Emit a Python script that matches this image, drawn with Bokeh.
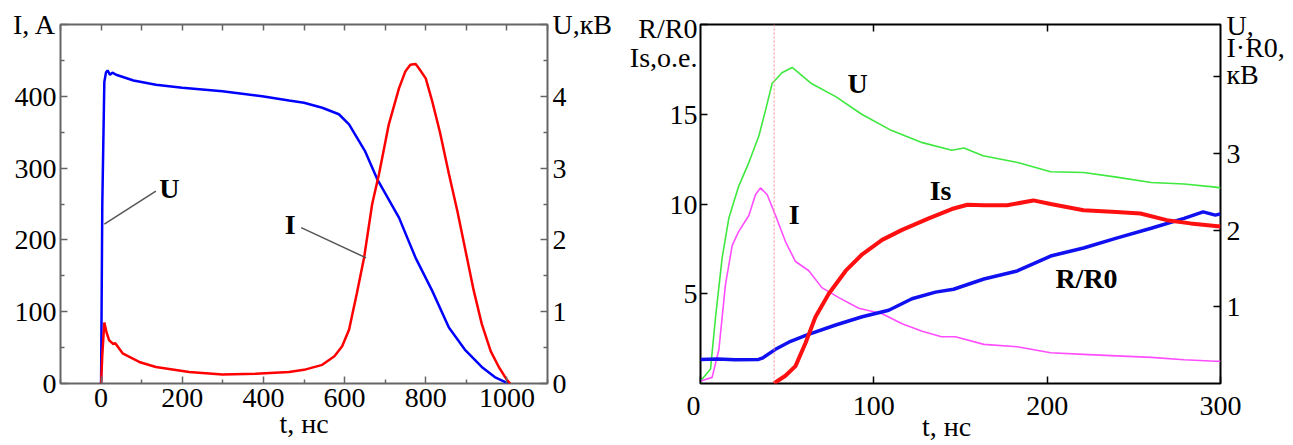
from bokeh.plotting import figure
from bokeh.models import Range1d, LinearAxis, Label, FixedTicker, Span
from bokeh.layouts import row
from bokeh.embed import file_html
from bokeh.resources import INLINE

SERIF = "Liberation Serif"
FS = "28px"
NB = "\u00a0"

# ---------------- left panel data ----------------
t_u1 = [0, 3, 8, 12, 16, 22, 28, 37, 80, 135, 200, 299, 397, 463, 500, 545, 586, 611,
        650, 680, 734, 775, 816, 857, 898, 938, 970, 996, 1005]
u1_kv = [0, 2.5, 4.2, 4.33, 4.36, 4.30, 4.33, 4.30, 4.22, 4.16, 4.12, 4.07, 4.0, 3.94,
         3.91, 3.84, 3.75, 3.61, 3.24, 2.85, 2.31, 1.75, 1.29, 0.78, 0.46, 0.23, 0.09, 0.02, 0]

t_i1 = [0, 3, 8, 14, 20, 30, 35, 53, 94, 135, 217, 299, 381, 463, 500, 545, 575, 594,
        611, 630, 648, 668, 685, 709, 734, 750, 762, 775, 783, 800, 816, 835, 857, 878,
        898, 918, 938, 960, 980, 1000, 1008]
i1_a = [0, 40, 85, 70, 60, 55, 56, 42, 30, 23, 16, 12.5, 13.5, 16, 19, 26, 38, 52,
        75, 125, 175, 250, 292, 361, 411, 435, 444, 445, 439, 425, 393, 350, 292, 240,
        185, 130, 83, 45, 23, 5, 0]

# ---------------- right panel data ----------------
t_u2 = [0, 1, 5.8, 8.7, 12.5, 16.3, 22, 27.9, 33.7, 37.5, 41.3, 47, 52.9, 64, 78, 93,
        110, 128, 145, 152, 163, 183, 202, 221, 240, 260, 279, 297, 300]
u2_kv = [0, 0.06, 0.19, 0.87, 1.64, 2.15, 2.57, 2.88, 3.23, 3.56, 3.91, 4.05, 4.12,
         3.91, 3.74, 3.51, 3.30, 3.14, 3.04, 3.07, 2.97, 2.88, 2.76, 2.75, 2.69, 2.62,
         2.60, 2.56, 2.55]

t_ir = [0, 1, 6.7, 10.6, 14.4, 18.3, 22, 27.9, 31.7, 34.6, 38.5, 43.3, 49, 54.8, 62.5,
        70, 79.8, 91.3, 104.8, 116.3, 127.9, 139, 147, 163.5, 182.7, 202, 221, 240, 260,
        279, 297, 300]
ir_kv = [0.02, 0.04, 0.08, 0.44, 1.29, 1.80, 1.98, 2.19, 2.46, 2.55, 2.46, 2.19, 1.85,
         1.59, 1.47, 1.25, 1.12, 0.98, 0.91, 0.78, 0.68, 0.61, 0.61, 0.51, 0.48, 0.40,
         0.38, 0.36, 0.34, 0.31, 0.29, 0.29]

t_is = [42.3, 49, 54.8, 60.6, 66.3, 74, 83.7, 93.3, 104.8, 116.3, 131.7, 145, 154,
        163.5, 176.9, 192, 202, 221, 240, 253.8, 269, 282.7, 297, 300]
is_oe = [0, 0.43, 0.97, 2.26, 3.7, 5.0, 6.27, 7.2, 8.0, 8.56, 9.2, 9.72, 9.96, 9.93,
         9.93, 10.2, 10.0, 9.65, 9.56, 9.47, 9.1, 8.92, 8.78, 8.75]

t_r = [0, 10, 20, 33.5, 36, 43, 52, 61.5, 78, 93.3, 108.6, 122, 135.6, 146, 163.5,
       182.7, 202, 221, 240, 260, 279, 290, 297, 300]
r_r0 = [1.34, 1.36, 1.32, 1.34, 1.43, 1.89, 2.35, 2.71, 3.26, 3.72, 4.08, 4.72, 5.09,
        5.25, 5.82, 6.27, 7.1, 7.55, 8.1, 8.65, 9.2, 9.56, 9.38, 9.45]

t_mark = 42.5


def style_axis(ax, ticks, minor=None, major_len=7, minor_len=4, color="black",
               overrides=None, standoff=5):
    ax.ticker = FixedTicker(ticks=ticks, minor_ticks=minor or [])
    ax.axis_line_color = None
    ax.major_tick_in = major_len
    ax.major_tick_out = 0
    ax.minor_tick_in = minor_len
    ax.minor_tick_out = 0
    ax.major_tick_line_width = 1.5
    ax.minor_tick_line_width = 1.5
    ax.major_tick_line_color = color
    ax.minor_tick_line_color = color
    ax.major_label_text_font = SERIF
    ax.major_label_text_font_size = FS
    ax.major_label_text_color = "black"
    ax.major_label_standoff = standoff
    if overrides:
        ax.major_label_overrides = overrides


def set_xlabel(ax, text, standoff=-8):
    ax.axis_label = text
    ax.axis_label_text_font = SERIF
    ax.axis_label_text_font_size = FS
    ax.axis_label_text_font_style = "normal"
    ax.axis_label_text_color = "black"
    ax.axis_label_standoff = standoff


def lbl(p, x, y, text, y_range_name="default"):
    p.add_layout(Label(x=x, y=y, text=text, text_font=SERIF, text_font_size=FS,
                       text_align="center", text_baseline="middle",
                       text_font_style="bold", text_color="black",
                       y_range_name=y_range_name))


# ================= left figure =================
p1 = figure(width=622, height=444, output_backend="svg", toolbar_location=None,
            x_range=Range1d(-100, 1100), y_range=Range1d(0, 500),
            min_border_left=60, min_border_right=75, min_border_top=24,
            min_border_bottom=61, x_axis_location=None, y_axis_location=None)
p1.extra_y_ranges = {"u": Range1d(0, 5)}
p1.grid.visible = False
p1.outline_line_color = "#666666"
p1.outline_line_width = 2

G = "#666666"
xt1 = [0, 200, 400, 600, 800, 1000]
xm1 = [-100, 100, 300, 500, 700, 900, 1100]
ax_b = LinearAxis()
style_axis(ax_b, xt1, xm1, color=G, standoff=5)
set_xlabel(ax_b, "t, нс", standoff=-2)
p1.add_layout(ax_b, "below")
ax_t = LinearAxis()
style_axis(ax_t, [], xt1 + xm1, minor_len=6, color=G)
p1.add_layout(ax_t, "above")
ax_l = LinearAxis()
style_axis(ax_l, [0, 100, 200, 300, 400, 500], [50, 150, 250, 350, 450], color=G,
           overrides={500: "I, A"}, standoff=4)
p1.add_layout(ax_l, "left")
ax_r = LinearAxis(y_range_name="u")
style_axis(ax_r, [0, 1, 2, 3, 4, 5], [0.5, 1.5, 2.5, 3.5, 4.5], color=G,
           overrides={5: "U,кВ"})
p1.add_layout(ax_r, "right")

p1.line(t_u1, u1_kv, y_range_name="u", line_color="#0000ff", line_width=2.5)
p1.line(t_i1, i1_a, line_color="#ff0000", line_width=2.5)

# leader lines to the curve names
p1.line([8, 135], [222, 268], line_color="#555555", line_width=1.5)
p1.line([493, 653], [217, 175], line_color="#555555", line_width=1.5)
lbl(p1, 168, 271, "U")
lbl(p1, 466, 222, "I")

# ================= right figure =================
p2 = figure(width=670, height=444, output_backend="svg", toolbar_location=None,
            x_range=Range1d(0, 300), y_range=Range1d(0, 20),
            min_border_left=78, min_border_right=72, min_border_top=20,
            min_border_bottom=60, x_axis_location=None, y_axis_location=None)
p2.extra_y_ranges = {"kv": Range1d(0, 4.68)}
p2.grid.visible = False
p2.outline_line_color = "black"
p2.outline_line_width = 2

bx = LinearAxis()
style_axis(bx, [0, 100, 200, 300], overrides={0: "0" + NB * 2}, standoff=6)
set_xlabel(bx, "t, нс" + NB * 4, standoff=-13)
p2.add_layout(bx, "below")
tx = LinearAxis()
style_axis(tx, [], [100, 200], minor_len=7)
p2.add_layout(tx, "above")
ly = LinearAxis()
style_axis(ly, [5, 10, 15, 18.16, 19.8], [5, 10, 15, 20], major_len=0, minor_len=7,
           overrides={18.16: "Is,o.e.", 19.8: "R/R0"}, standoff=3)
p2.add_layout(ly, "left")
ry = LinearAxis(y_range_name="kv")
style_axis(ry, [1, 2, 3, 4.025, 4.385, 4.668], [1, 2, 3, 4], major_len=0, minor_len=7,
           overrides={4.025: "кВ", 4.385: "I·R0,", 4.668: "U,"}, standoff=6)
p2.add_layout(ry, "right")

p2.add_layout(Span(location=t_mark, dimension="height", line_color="#ff8c8c",
                   line_dash="2 2", line_width=1))

p2.line(t_u2, u2_kv, y_range_name="kv", line_color="#3ee83e", line_width=1.6)
p2.line(t_ir, ir_kv, y_range_name="kv", line_color="#ff4dff", line_width=1.6)
p2.line(t_r, r_r0, line_color="#1010f0", line_width=3.5)
p2.line(t_is, is_oe, line_color="#ff1010", line_width=4)

lbl(p2, 90.6, 16.7, "U")
lbl(p2, 54, 9.4, "I")
lbl(p2, 138.5, 10.75, "Is")
lbl(p2, 222.7, 5.84, "R/R0")

layout = row(p1, p2)
open("out.html", "w").write(file_html(layout, INLINE))
